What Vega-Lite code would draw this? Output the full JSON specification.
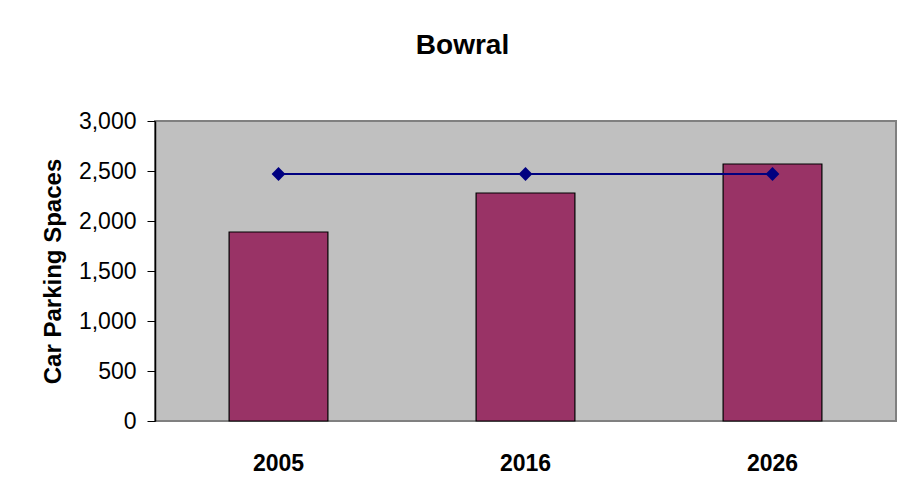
{
  "$schema": "https://vega.github.io/schema/vega-lite/v6.json",
  "width": 741,
  "height": 300,
  "autosize": {"type": "none"},
  "padding": {"left": 155, "top": 121, "right": 7, "bottom": 81},
  "background": "white",
  "config": {
    "font": "Liberation Sans",
    "view": {"fill": "#C0C0C0", "stroke": "#808080", "strokeWidth": 2}
  },
  "title": {
    "text": "Bowral",
    "fontSize": 28,
    "fontWeight": "bold",
    "color": "black",
    "anchor": "middle",
    "frame": "group",
    "dx": -63,
    "baseline": "alphabetic",
    "offset": 28
  },
  "data": {
    "values": [
      {"year": "2005", "demand": 1890, "supply": 2470},
      {"year": "2016", "demand": 2280, "supply": 2470},
      {"year": "2026", "demand": 2570, "supply": 2470}
    ]
  },
  "encoding": {
    "x": {
      "field": "year",
      "type": "nominal",
      "scale": {"paddingInner": 0.6, "paddingOuter": 0.3},
      "axis": {
        "title": null,
        "labelAngle": 0,
        "labelFontSize": 23,
        "labelFontWeight": "bold",
        "labelColor": "black",
        "labelPadding": 31,
        "ticks": false,
        "domain": false
      }
    }
  },
  "layer": [
    {
      "mark": {"type": "bar", "color": "#993366", "stroke": "black", "strokeWidth": 1.2},
      "encoding": {
        "y": {
          "field": "demand",
          "type": "quantitative",
          "scale": {"domain": [0, 3000], "nice": false},
          "axis": {
            "title": "Car Parking Spaces",
            "titleFontSize": 24,
            "titleFontWeight": "bold",
            "titleColor": "black",
            "titlePadding": 13,
            "values": [0, 500, 1000, 1500, 2000, 2500, 3000],
            "format": ",d",
            "labelFontSize": 23,
            "labelColor": "black",
            "labelPadding": 11,
            "tickSize": 8,
            "tickColor": "black",
            "domainColor": "black",
            "domainWidth": 1.5,
            "grid": false
          }
        }
      }
    },
    {
      "mark": {"type": "line", "color": "#000080", "strokeWidth": 2, "point": {"shape": "diamond", "size": 190, "filled": true, "color": "#000080"}},
      "encoding": {
        "y": {"field": "supply", "type": "quantitative"}
      }
    }
  ]
}
